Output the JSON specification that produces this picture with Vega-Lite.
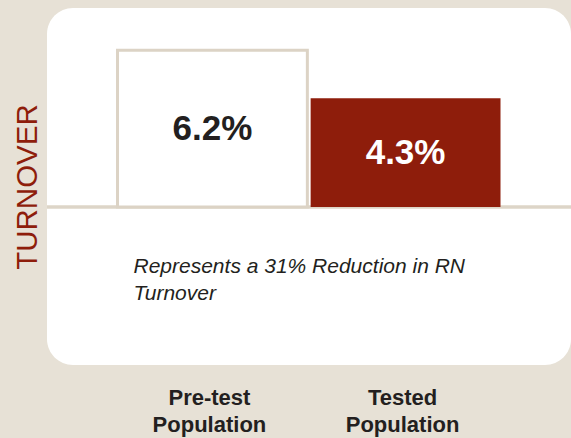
{
  "$schema": "https://vega.github.io/schema/vega-lite/v6.json",
  "width": 524,
  "height": 357,
  "autosize": {"type": "none"},
  "padding": {"left": 47, "top": 8, "right": 0, "bottom": 73},
  "background": "#e7e1d6",
  "config": {
    "view": {"fill": "white", "cornerRadius": 26, "stroke": null},
    "font": "Liberation Sans"
  },
  "datasets": {
    "bars": [
      {"cat": "Pre-test Population", "turnover": 6.2, "label": "6.2%"},
      {"cat": "Tested Population", "turnover": 4.3, "label": "4.3%"}
    ],
    "note": [
      {"cat": "Pre-test Population", "y": -2.61, "text": "Represents a 31% Reduction in RN\nTurnover"}
    ]
  },
  "encoding": {
    "x": {
      "field": "cat",
      "type": "nominal",
      "sort": null,
      "scale": {"paddingInner": 0.017, "paddingOuter": 0.365},
      "axis": {
        "title": null,
        "domain": false,
        "ticks": false,
        "labelAngle": 0,
        "labelExpr": "split(datum.label, ' ')",
        "labelFontSize": 22,
        "labelFontWeight": "bold",
        "labelColor": "#231f20",
        "labelLineHeight": 27,
        "labelPadding": 22,
        "labelBaseline": "top",
        "labelOffset": -3
      }
    }
  },
  "layer": [
    {
      "data": {"name": "bars"},
      "mark": {"type": "rule", "color": "#ddd5c8", "strokeWidth": 3},
      "encoding": {"x": null, "y": {"datum": 0, "type": "quantitative"}}
    },
    {
      "data": {"name": "bars"},
      "mark": {"type": "bar", "strokeWidth": 3},
      "encoding": {
        "y": {
          "field": "turnover",
          "type": "quantitative",
          "scale": {"domain": [-6.245, 7.866], "nice": false, "zero": false},
          "axis": {
            "title": "TURNOVER",
            "labels": false,
            "ticks": false,
            "domain": false,
            "grid": false,
            "titleFontSize": 29.5,
            "titleFontWeight": "normal",
            "titleColor": "#8e1d0b",
            "titlePadding": 5
          }
        },
        "fill": {
          "condition": {"test": "datum.cat === 'Tested Population'", "value": "#8e1d0b"},
          "value": "white"
        },
        "stroke": {
          "condition": {"test": "datum.cat === 'Tested Population'", "value": null},
          "value": "#dcd3c5"
        }
      }
    },
    {
      "data": {"name": "bars"},
      "transform": [{"calculate": "datum.turnover / 2", "as": "mid"}],
      "mark": {"type": "text", "fontSize": 35, "fontWeight": "bold", "baseline": "middle", "align": "center"},
      "encoding": {
        "y": {"field": "mid", "type": "quantitative"},
        "text": {"field": "label"},
        "color": {
          "condition": {"test": "datum.cat === 'Tested Population'", "value": "white"},
          "value": "#231f20"
        }
      }
    },
    {
      "data": {"name": "note"},
      "mark": {"type": "text", "fontSize": 21, "fontStyle": "italic", "align": "left", "baseline": "alphabetic", "lineBreak": "\n", "lineHeight": 27, "dx": 16, "color": "#231f20"},
      "encoding": {
        "x": {"field": "cat", "type": "nominal", "bandPosition": 0},
        "y": {"field": "y", "type": "quantitative"},
        "text": {"field": "text"}
      }
    }
  ]
}
